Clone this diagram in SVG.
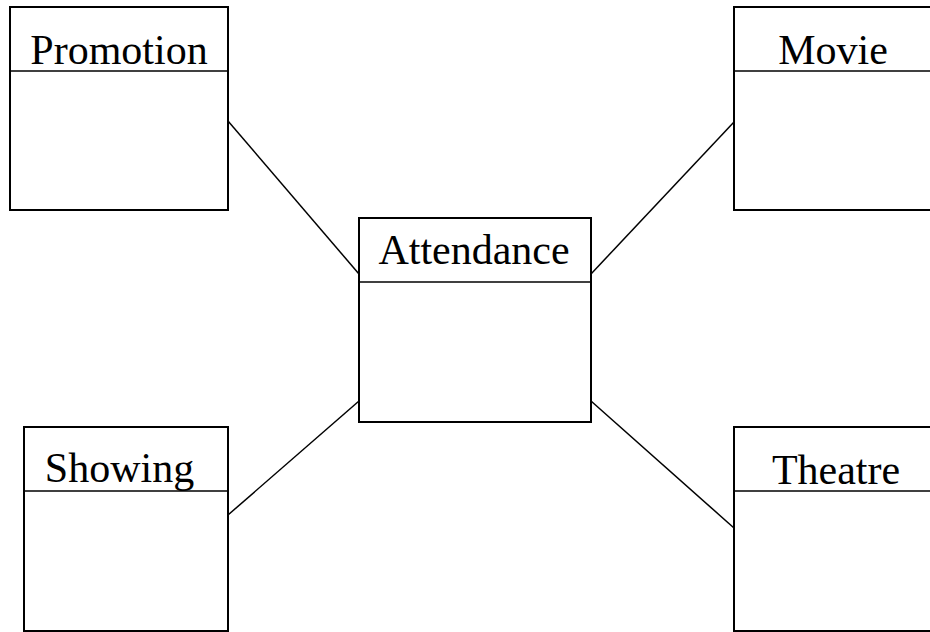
<svg xmlns="http://www.w3.org/2000/svg" width="930" height="632" viewBox="0 0 930 632">
  <style>
    .box { fill: #fff; stroke: #000; stroke-width: 2; }
    .div { stroke: #000; stroke-width: 1.5; }
    .lbl { font-family: "Liberation Serif", "Times New Roman", serif; font-size: 42px; fill: #000; text-anchor: middle; }
    .conn { stroke: #000; stroke-width: 1.5; fill: none; }
  </style>
  <rect width="930" height="632" fill="#fff"/>

  <g id="connectors">
    <line class="conn" x1="228" y1="121" x2="359" y2="274"/>
    <line class="conn" x1="734" y1="122" x2="591" y2="274"/>
    <line class="conn" x1="228" y1="515" x2="359" y2="401"/>
    <line class="conn" x1="734" y1="528" x2="591" y2="401"/>
  </g>

  <g id="promotion">
    <rect class="box" x="10" y="7" width="218" height="203"/>
    <line class="div" x1="10" y1="71" x2="228" y2="71"/>
    <text class="lbl" x="119" y="64">Promotion</text>
  </g>

  <g id="movie">
    <rect class="box" x="734" y="7" width="210" height="203"/>
    <line class="div" x1="734" y1="71" x2="944" y2="71"/>
    <text class="lbl" x="833" y="64">Movie</text>
  </g>

  <g id="attendance">
    <rect class="box" x="359" y="218" width="232" height="204"/>
    <line class="div" x1="359" y1="282" x2="591" y2="282"/>
    <text class="lbl" x="474" y="264">Attendance</text>
  </g>

  <g id="showing">
    <rect class="box" x="24" y="427" width="204" height="204"/>
    <line class="div" x1="24" y1="491" x2="228" y2="491"/>
    <text class="lbl" x="119.5" y="482">Showing</text>
  </g>

  <g id="theatre">
    <rect class="box" x="734" y="427" width="210" height="204"/>
    <line class="div" x1="734" y1="491" x2="944" y2="491"/>
    <text class="lbl" x="836" y="484">Theatre</text>
  </g>
</svg>
